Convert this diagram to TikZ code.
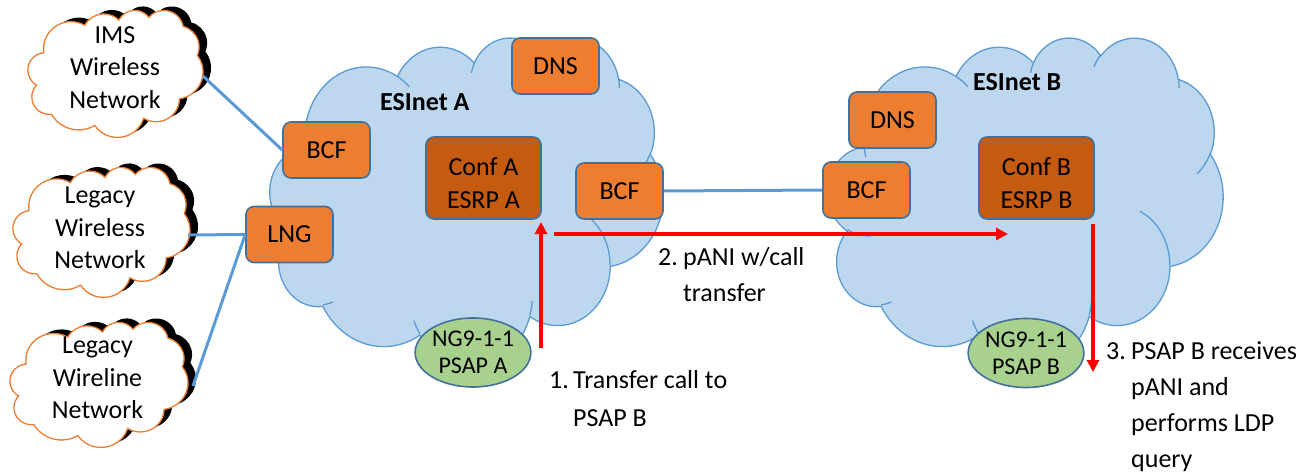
\documentclass[tikz,border=0pt]{standalone}
\usepackage{fontspec}
\setmainfont{Carlito}
\usetikzlibrary{arrows.meta,shapes.geometric}

\definecolor{netfill}{HTML}{BDD7EE}
\definecolor{netline}{HTML}{5B9BD5}
\definecolor{fnfill}{HTML}{ED7D31}
\definecolor{fnline}{HTML}{41719C}
\definecolor{esrpfill}{HTML}{C55A11}
\definecolor{psapfill}{HTML}{A9D18E}
\definecolor{flowred}{HTML}{FF0000}

% Cloud outline on a 432 x 432 grid (y pointing down)
\newcommand\cloudoutline{%
 (39.00,143.70)
 arc[start angle=172.26, end angle=300.37, x radius=67.53, y radius=91.90]
 arc[start angle=-152.02, end angle=-45.46, x radius=53.33, y radius=72.67]
 arc[start angle=-153.49, end angle=-37.31, x radius=43.65, y radius=59.45]
 arc[start angle=-139.70, end angle=-10.21, x radius=48.57, y radius=65.95]
 arc[start angle=-74.77, end angle=23.22, x radius=53.33, y radius=72.73]
 arc[start angle=-37.52, end angle=81.86, x radius=67.75, y radius=92.20]
 arc[start angle=0.46, end angle=121.97, x radius=57.85, y radius=78.67]
 arc[start angle=16.85, end angle=146.21, x radius=67.52, y radius=92.15]
 arc[start angle=58.98, end angle=150.18, x radius=77.20, y radius=105.43]
 arc[start angle=83.30, end angle=223.11, x radius=43.60, y radius=59.18]
 arc[start angle=120.36, end angle=264.11, x radius=43.45, y radius=59.45]
 -- cycle}

% Inner creases where the puffs of the cloud overlap
\newcommand\cloudcreases{%
 (46.93,261.77) arc[start angle=85.55, end angle=120.36, x radius=43.45, y radius=59.45]
 (69.28,348.99) arc[start angle=68.23, end angle=83.30, x radius=43.60, y radius=59.18]
 (164.78,390.90) arc[start angle=146.21, end angle=158.47, x radius=67.52, y radius=92.15]
 (288.27,347.51) arc[start angle=4.74, end angle=16.85, x radius=67.52, y radius=92.15]
 (341.29,229.54) arc[start angle=-64.03, end angle=0.46, x radius=57.85, y radius=78.67]
 (417.98,153.54) arc[start angle=23.22, end angle=49.63, x radius=53.33, y radius=72.73]
 (383.24,54.26) arc[start angle=-10.21, end angle=0.82, x radius=48.57, y radius=65.95]
 (290.78,39.52) arc[start angle=-156.29, end angle=-139.70, x radius=48.57, y radius=65.95]
 (221.41,47.20) arc[start angle=-167.73, end angle=-153.49, x radius=43.65, y radius=59.45]
 (140.00,51.92) arc[start angle=-59.63, end angle=-45.73, x radius=67.53, y radius=91.90]
 (41.27,157.89) arc[start angle=166.60, end angle=181.08, x radius=67.53, y radius=91.90]}

% #1,#2 top-left corner, #3 width, #4 height, #5 drawing commands
\newcommand\drawcloud[5]{%
  \pgfmathsetmacro\cloudsx{#3/432}%
  \pgfmathsetmacro\cloudsy{#4/432}%
  \begin{scope}[shift={(#1,#2)},x=\cloudsx pt,y=-\cloudsy pt]
    #5
  \end{scope}}

\tikzset{
  netcloud/.style={fill=netfill, draw=netline, line width=1.3pt},
  netcrease/.style={draw=netline, line width=1.3pt},
  feedcloud/.style={fill=white, draw=fnfill, line width=1.3pt},
  feedshadow/.style={fill=black},
  fnbox/.style={rectangle, rounded corners=8pt, draw=fnline, line width=1.6pt,
    fill=fnfill, minimum width=87pt, minimum height=56pt, inner sep=0pt,
    font=\fontsize{26}{32}\selectfont},
  esrpbox/.style={fnbox, fill=esrpfill, minimum width=115pt, minimum height=82pt,
    align=center, font=\fontsize{26}{33}\selectfont},
  psap/.style={ellipse, draw=fnline, line width=1.6pt, fill=psapfill,
    minimum width=112pt, minimum height=69pt, inner sep=0pt, align=center,
    font=\fontsize{24}{27}\selectfont},
  link/.style={draw=netline, line width=3pt},
  flow/.style={draw=flowred, line width=4pt, -{Triangle[length=12pt,width=12pt]}},
  feedtext/.style={align=center, inner sep=0pt, font=\fontsize{26}{32.5}\selectfont},
  nettitle/.style={anchor=base west, inner sep=0pt, font=\bfseries\fontsize{26}{30}\selectfont},
  steptext/.style={anchor=base west, inner sep=0pt}
}

\begin{document}
\begin{tikzpicture}[x=1pt,y=-1pt]
\useasboundingbox (0,0) rectangle (1312,476);
\fill[white] (0,0) rectangle (1312,476);

% originating networks
\drawcloud{36}{6}{175}{127}{\path[feedshadow] \cloudoutline;}
\drawcloud{28}{10}{175}{127}{\path[feedcloud] \cloudoutline;}
\drawcloud{21}{163}{177}{130}{\path[feedshadow] \cloudoutline;}
\drawcloud{13}{167}{177}{130}{\path[feedcloud] \cloudoutline;}
\drawcloud{18}{318}{178}{125}{\path[feedshadow] \cloudoutline;}
\drawcloud{10}{322}{178}{125}{\path[feedcloud] \cloudoutline;}

\node[feedtext] (ims) at (115,67.5) {IMS\\Wireless\\Network};
\node[feedtext] (lwl) at (100,228) {Legacy\\Wireless\\Network};
\node[feedtext] (lwn) at (97.5,378) {Legacy\\Wireline\\Network};

% the two ESInets
\drawcloud{270}{37}{393}{328}{\path[netcloud] \cloudoutline; \path[netcrease] \cloudcreases;}
\drawcloud{828}{37}{395}{328}{\path[netcloud] \cloudoutline; \path[netcrease] \cloudcreases;}

\node[nettitle] (esineta) at (380,111) {ESInet A};
\node[nettitle] (esinetb) at (973,91) {ESInet B};

% functional elements
\node[fnbox] (dnsa) at (555.5,66) {DNS};
\node[fnbox] (bcfa1) at (326.5,150) {BCF};
\node[fnbox] (lng) at (289.5,234.5) {LNG};
\node[esrpbox] (confa) at (483.5,178) {\rule{0pt}{28pt}Conf A\\ESRP A};
\node[fnbox] (bcfa2) at (619.5,191) {BCF};
\node[fnbox] (dnsb) at (892.5,120) {DNS};
\node[fnbox] (bcfb) at (866.5,190) {BCF};
\node[esrpbox] (confb) at (1036.5,178) {\rule{0pt}{28pt}Conf B\\ESRP B};
\node[psap] (psapa) at (473,352.5) {NG9-1-1\\PSAP A};
\node[psap] (psapb) at (1026,353) {NG9-1-1\\PSAP B};

% network links
\coordinate (imsport) at (203,76);
\coordinate (lwlport) at (188,235);
\coordinate (lwnport) at (193,386);
\draw[link] (imsport) -- (bcfa1.west);
\draw[link] (lwlport) -- (lng.west);
\draw[link] (lwnport) -- (lng.west);
\draw[link] (bcfa2.east) -- (bcfb.west);

% call flow
\coordinate (xferstart) at (541,348);
\coordinate (xferend) at (541,222);
\coordinate (panistart) at (554,234);
\coordinate (paniend) at (1008,234);
\coordinate (ldpstart) at (1093,224);
\coordinate (ldpend) at (1093,372);
\draw[flow] (xferstart) -- (xferend);
\draw[flow] (panistart) -- (paniend);
\draw[flow] (ldpstart) -- (ldpend);

\node[steptext, font=\fontsize{26}{38}\selectfont] (step1) at (549,388)
  {\begin{tabular}[t]{@{}p{24pt}@{}l@{}}1.&Transfer call to\\&PSAP B\end{tabular}};
\node[steptext, font=\fontsize{26}{36}\selectfont] (step2) at (658,265)
  {\begin{tabular}[t]{@{}p{25pt}@{}l@{}}2.&pANI w/call\\&transfer\end{tabular}};
\node[steptext, font=\fontsize{26}{36.3}\selectfont] (step3) at (1106,359)
  {\begin{tabular}[t]{@{}p{25pt}@{}l@{}}3.&PSAP B receives\\&pANI and\\&performs LDP\\&query\end{tabular}};
\end{tikzpicture}
\end{document}
